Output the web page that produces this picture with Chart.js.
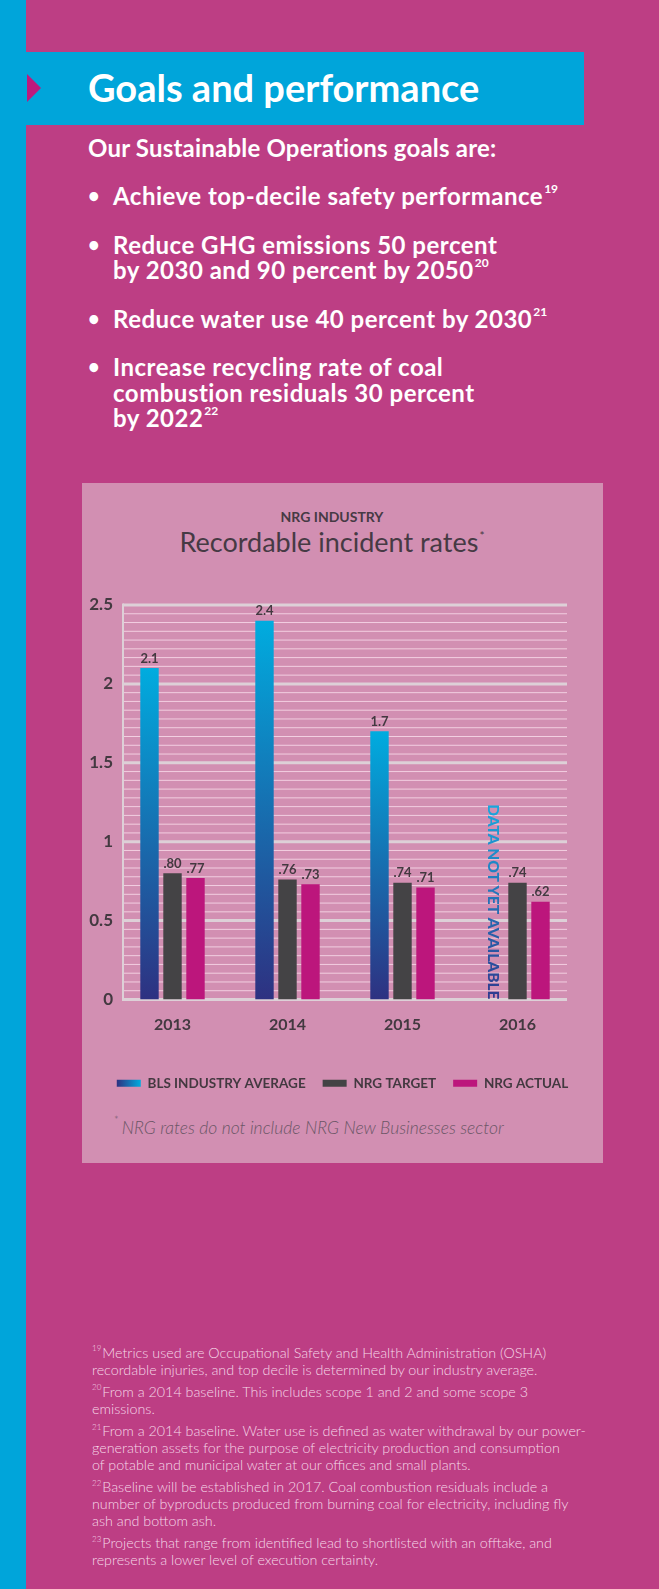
<!DOCTYPE html>
<html lang="en">
<head>
    <meta charset="UTF-8">
    <title>Goals and performance</title>
    <script src="https://cdn.jsdelivr.net/npm/chart.js@4.4.1/dist/chart.umd.min.js"></script>
    <style>
        body { margin: 0; background: #bd3e84; font-family: 'Lato', 'Open Sans', sans-serif; }
        #page { position: relative; width: 659px; height: 1589px; overflow: hidden; background: #bd3e84; }
        .abs { position: absolute; }
        #strip { left: 0; top: 0; width: 26px; height: 1589px; background: #00a5da; }
        #header { left: 26px; top: 52px; width: 558px; height: 73px; background: #00a5da; }
        #arrow { left: 27px; top: 74px; width: 0; height: 0; border-top: 14px solid transparent; border-bottom: 14px solid transparent; border-left: 14px solid #be1a7d; }
        #headerText { left: 88px; top: 67px; font-size: 38px; line-height: 40px; font-weight: 700; color: #fff; white-space: nowrap; }
        #intro { left: 88px; top: 134px; font-size: 24px; line-height: 28px; font-weight: 700; letter-spacing: 0.2px; color: #fff; white-space: nowrap; }
        #goals { left: 88px; top: 183px; margin: 0; padding: 0; list-style: none; color: #fff; font-size: 24px; line-height: 25.5px; font-weight: 700; letter-spacing: 0.5px; }
        #goals li { position: relative; padding-left: 25px; margin-bottom: 23px; white-space: nowrap; }
        #goals li::before { content: '\2022'; position: absolute; left: 0; top: 0; font-size: 20px; }
        sup { font-size: 12px; line-height: 0; position: relative; top: -3px; vertical-align: super; margin-left: 1px; letter-spacing: 0; }
        #panel { left: 82px; top: 483px; width: 521px; height: 680px; background: #d28fb2; }
        #chartTitle { left: 82px; width: 500px; top: 507px; text-align: center; color: #463a44; }
        #chartTitle .kicker { font-size: 14px; line-height: 20px; font-weight: 700; }
        #chartTitle .main { font-size: 27px; line-height: 30px; font-weight: 400; }
        #chartTitle .main sup { font-size: 12px; top: -2px; }
        #chartBox { left: 82px; top: 570px; width: 521px; height: 540px; }
        #chartNote { left: 113px; top: 1117px; font-size: 17.5px; line-height: 22px; font-style: italic; font-weight: 300; color: #6b5666; white-space: nowrap; }
        #chartNote sup { font-size: 11px; margin-right: 3px; font-style: normal; }
        #notes { left: 92px; top: 1345px; color: #f5d8e8; font-size: 14.3px; line-height: 16.8px; font-weight: 300; white-space: nowrap; }
        #notes p { margin: 0 0 5.6px 0; }
        #notes sup { font-size: 8px; top: -1px; margin-right: 1px; margin-left: 0; }
    </style>
</head>
<body>
<div id="page">
    <div id="strip" class="abs"></div>
    <div id="header" class="abs"></div>
    <div id="arrow" class="abs"></div>
    <div id="headerText" class="abs">Goals and performance</div>
    <div id="intro" class="abs">Our Sustainable Operations goals are:</div>
    <ul id="goals" class="abs">
        <li>Achieve top-decile safety performance<sup>19</sup></li>
        <li>Reduce GHG emissions 50 percent<br>by 2030 and 90 percent by 2050<sup>20</sup></li>
        <li>Reduce water use 40 percent by 2030<sup>21</sup></li>
        <li>Increase recycling rate of coal<br>combustion residuals 30 percent<br>by 2022<sup>22</sup></li>
    </ul>

    <div id="panel" class="abs"></div>
    <div id="chartTitle" class="abs">
        <div class="kicker">NRG INDUSTRY</div>
        <div class="main">Recordable incident rates<sup>*</sup></div>
    </div>
    <div id="chartBox" class="abs"><canvas id="incidentChart"></canvas></div>
    <div id="chartNote" class="abs"><sup>*</sup>NRG rates do not include NRG New Businesses sector</div>

    <div id="notes" class="abs">
        <p><sup>19</sup>Metrics used are Occupational Safety and Health Administration (OSHA)<br>recordable injuries, and top decile is determined by our industry average.</p>
        <p><sup>20</sup>From a 2014 baseline. This includes scope 1 and 2 and some scope 3<br>emissions.</p>
        <p><sup>21</sup>From a 2014 baseline. Water use is defined as water withdrawal by our power-<br>generation assets for the purpose of electricity production and consumption<br>of potable and municipal water at our offices and small plants.</p>
        <p><sup>22</sup>Baseline will be established in 2017. Coal combustion residuals include a<br>number of byproducts produced from burning coal for electricity, including fly<br>ash and bottom ash.</p>
        <p><sup>23</sup>Projects that range from identified lead to shortlisted with an offtake, and<br>represents a lower level of execution certainty.</p>
    </div>
</div>

<script>
    // chart data
    const years = ['2013', '2014', '2015', '2016'];
    const blsAverage = [2.1, 2.4, 1.7, null];
    const nrgTarget = [0.80, 0.76, 0.74, 0.74];
    const nrgActual = [0.77, 0.73, 0.71, 0.62];
    const seriesNames = ['BLS INDUSTRY AVERAGE', 'NRG TARGET', 'NRG ACTUAL'];
    const yMajorTicks = [0, 0.5, 1, 1.5, 2, 2.5];
    const missingNote = 'DATA NOT YET AVAILABLE';

    const CYAN = '#00acdf';
    const NAVY = '#2e3181';
    const INK = '#433940';
    const FONT = "'Lato', 'Open Sans', sans-serif";

    function isMajor(v) {
        return yMajorTicks.some(m => Math.abs(m - v) < 1e-6);
    }

    // ".80" style for values under one, "2.1" otherwise
    function fmt(v) {
        return v < 1 ? v.toFixed(2).replace(/^0/, '') : v.toFixed(1);
    }

    function blsFill(ctx) {
        const chart = ctx.chart;
        if (!chart.chartArea || !ctx.parsed || ctx.parsed.y == null) return '#2a6fb3';
        const y = chart.scales.y;
        const top = y.getPixelForValue(ctx.parsed.y);
        const bottom = y.getPixelForValue(0);
        const g = chart.ctx.createLinearGradient(0, top, 0, bottom);
        g.addColorStop(0, CYAN);
        g.addColorStop(1, NAVY);
        return g;
    }

    // grid lines inset from the category bands, plus the left axis rule
    const gridPlugin = {
        id: 'insetGrid',
        beforeDatasetsDraw(chart) {
            const { ctx, chartArea, scales } = chart;
            const left = chartArea.left + 8, right = chartArea.right - 8;
            ctx.save();
            scales.y.ticks.forEach(t => {
                const py = scales.y.getPixelForValue(t.value);
                const major = isMajor(t.value);
                ctx.strokeStyle = major ? '#ddd0d7' : 'rgba(250,222,236,0.8)';
                ctx.lineWidth = major ? 3 : 1;
                ctx.beginPath();
                ctx.moveTo(left, py);
                ctx.lineTo(right, py);
                ctx.stroke();
            });
            ctx.strokeStyle = '#ddd0d7';
            ctx.lineWidth = 2;
            ctx.beginPath();
            ctx.moveTo(left, scales.y.getPixelForValue(2.5) - 1.5);
            ctx.lineTo(left, scales.y.getPixelForValue(0) + 1.5);
            ctx.stroke();
            ctx.restore();
        }
    };

    const labelPlugin = {
        id: 'barLabels',
        beforeDraw(chart) {
            // horizontal gradient swatch for the BLS legend entry
            const lg = chart.legend;
            if (lg && lg.legendHitBoxes && lg.legendHitBoxes[0] && lg.legendItems) {
                const hb = lg.legendHitBoxes[0];
                const g = chart.ctx.createLinearGradient(hb.left, 0, hb.left + 24, 0);
                g.addColorStop(0, NAVY);
                g.addColorStop(1, CYAN);
                lg.legendItems[0].fillStyle = g;
            }
        },
        afterDatasetsDraw(chart) {
            const { ctx, scales } = chart;
            ctx.save();
            ctx.font = `700 13px ${FONT}`;
            ctx.fillStyle = INK;
            ctx.textAlign = 'center';
            ctx.textBaseline = 'bottom';
            chart.data.datasets.forEach((ds, di) => {
                const meta = chart.getDatasetMeta(di);
                meta.data.forEach((bar, i) => {
                    const v = ds.data[i];
                    if (v == null) return;
                    ctx.fillText(fmt(v), bar.x, bar.y - 3);
                });
            });
            // vertical note where the BLS bar is missing
            const tgt = chart.getDatasetMeta(1).data;
            const act = chart.getDatasetMeta(2).data;
            blsAverage.forEach((v, i) => {
                if (v != null) return;
                const x = tgt[i].x - (act[i].x - tgt[i].x) - 2;
                const base = scales.y.getPixelForValue(0);
                ctx.save();
                ctx.translate(x, base);
                ctx.rotate(Math.PI / 2);
                ctx.font = `900 15.5px ${FONT}`;
                const w = ctx.measureText(missingNote).width;
                const g = ctx.createLinearGradient(-w, 0, 0, 0);
                g.addColorStop(0, '#19a8de');
                g.addColorStop(1, '#2f3a8e');
                ctx.fillStyle = g;
                ctx.textAlign = 'right';
                ctx.textBaseline = 'middle';
                ctx.fillText(missingNote, 0, 0);
                ctx.restore();
            });
            ctx.restore();
        }
    };

    new Chart(document.getElementById('incidentChart'), {
        type: 'bar',
        data: {
            labels: years,
            datasets: [
                { label: seriesNames[0], data: blsAverage, backgroundColor: blsFill, borderWidth: 0 },
                { label: seriesNames[1], data: nrgTarget, backgroundColor: '#444345', borderWidth: 0 },
                { label: seriesNames[2], data: nrgActual, backgroundColor: '#bc167c', borderWidth: 0 }
            ]
        },
        options: {
            responsive: true,
            maintainAspectRatio: false,
            animation: false,
            categoryPercentage: 0.6,
            barPercentage: 0.8,
            layout: { padding: { top: 35, right: 0, bottom: 10, left: 0 } },
            plugins: {
                tooltip: { enabled: false },
                legend: {
                    position: 'bottom',
                    labels: {
                        boxWidth: 24,
                        boxHeight: 7,
                        padding: 17,
                        color: INK,
                        font: { family: FONT, size: 13.5, weight: '700' }
                    }
                }
            },
            scales: {
                x: {
                    grid: { display: false, drawTicks: false },
                    border: { display: false },
                    ticks: { color: INK, padding: 16, font: { family: FONT, size: 16, weight: '700' } },
                    afterFit: s => { s.height = 60; }
                },
                y: {
                    min: 0,
                    max: 2.5,
                    grid: { display: false, drawTicks: false, tickLength: 0 },
                    border: { display: false },
                    ticks: {
                        stepSize: 0.5 / 9,
                        autoSkip: false,
                        maxTicksLimit: 100,
                        padding: 2,
                        color: INK,
                        font: { family: FONT, size: 17, weight: '700' },
                        callback: v => isMajor(v) ? String(Math.round(v * 10) / 10) : ''
                    },
                    afterFit: s => { s.width = 33; }
                },
                // empty right-hand gutter so the legend centres on the whole panel
                gutter: {
                    position: 'right',
                    min: 0,
                    max: 2.5,
                    grid: { display: false, drawTicks: false },
                    border: { display: false },
                    ticks: { display: false },
                    afterFit: s => { s.width = 28; }
                }
            }
        },
        plugins: [gridPlugin, labelPlugin]
    });
</script>
</body>
</html>
